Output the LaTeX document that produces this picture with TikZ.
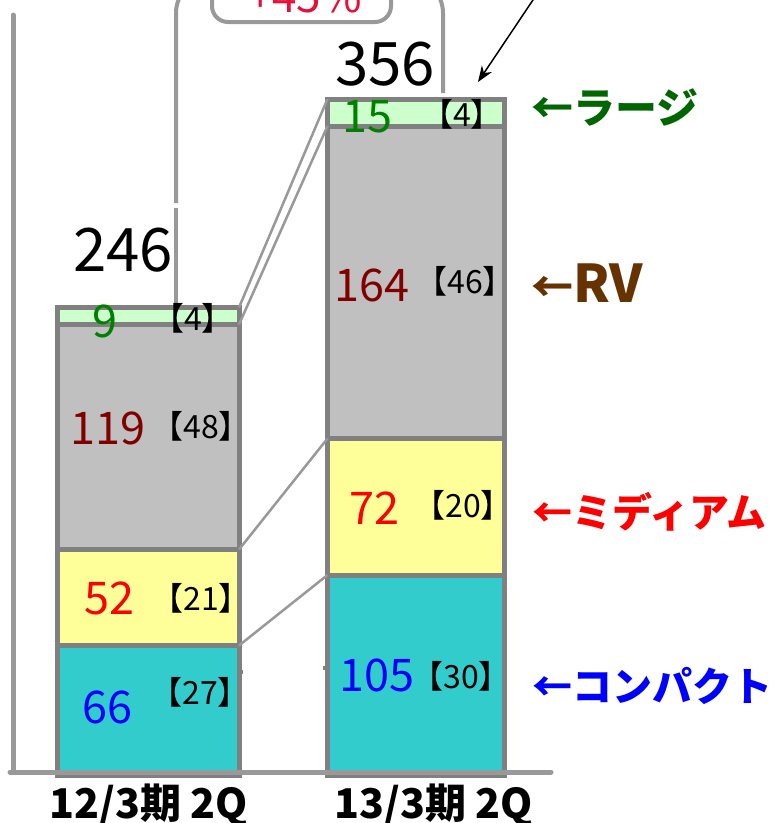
\documentclass[tikz,border=0pt]{standalone}
\usepackage{fontspec}
\setmainfont{Noto Sans CJK JP}
\usetikzlibrary{fit,arrows.meta}
\definecolor{barline}{HTML}{808080}
\definecolor{axisgray}{HTML}{999999}
\definecolor{lgreen}{HTML}{CCFFCC}
\definecolor{lgray}{HTML}{C0C0C0}
\definecolor{lyellow}{HTML}{FFFF99}
\definecolor{lteal}{HTML}{33CCCC}
\definecolor{dgreen}{HTML}{008000}
\definecolor{dred}{HTML}{800000}
\definecolor{lblgreen}{HTML}{006600}
\definecolor{lblbrown}{HTML}{663300}
\definecolor{pctred}{HTML}{E8103A}
\tikzset{
 seg/.style={draw=barline, line width=5pt, inner sep=0pt, outer sep=0pt},
 num/.style={inner sep=0pt, font=\fontsize{45}{50}\selectfont},
 brk/.style={inner sep=0pt, font=\fontsize{32}{36}\selectfont},
 tot/.style={inner sep=0pt, font=\fontsize{60}{66}\selectfont},
 cat/.style={inner sep=0pt, anchor=west, font=\bfseries\fontsize{40}{44}\selectfont},
 period/.style={inner sep=0pt, font=\bfseries\fontsize{41}{45}\selectfont},
 link/.style={draw=axisgray, line width=2.5pt},
 axisline/.style={draw=axisgray, line width=5pt, line cap=round},
 bracketline/.style={draw=axisgray, line width=4pt},
}
\begin{document}
\begin{tikzpicture}[x=1pt,y=-1pt]
\clip (0,0) rectangle (778,823);
\fill[white] (0,0) rectangle (778,823);

% bracket over the bars
\draw[bracketline, rounded corners=35pt] (176,203) -- (176,-22) -- (443,-22) -- (443,93);
\draw[bracketline] (176,208) -- (176,304);
\node[draw=axisgray, line width=4pt, fill=white, rounded corners=16pt, minimum width=179pt, minimum height=70pt, inner sep=0pt] (pctbox) at (301.5,-13) {};
\node[font=\fontsize{44}{48}\selectfont, text=pctred, anchor=base, inner sep=0pt] (pct) at (305,12) {+45\%};

% left axis
\coordinate (axtop) at (13,15);
\coordinate (axbot) at (13,772);
\coordinate (axleft) at (10,772);
\coordinate (axright) at (551,772);

% left bar
\node[seg, fill=lgreen, fit={(57,307.5) (239,324.5)}] (L9) {};
\node[seg, fill=lgray, fit={(57,324.5) (239,549.5)}] (L119) {};
\node[seg, fill=lyellow, fit={(57,549.5) (239,645.5)}] (L52) {};
\node[seg, fill=lteal, fit={(57,645.5) (239,775)}] (L66) {};

% right bar
\node[seg, fill=lgreen, fit={(327.5,99) (504.5,126)}] (R15) {};
\node[seg, fill=lgray, fit={(327.5,126) (504.5,438.5)}] (R164) {};
\node[seg, fill=lyellow, fit={(327.5,438.5) (504.5,575)}] (R72) {};
\node[seg, fill=lteal, fit={(327.5,575) (504.5,775)}] (R105) {};

% connectors between bars
\draw[link] (L9.north east) -- (R15.north west);
\draw[link] (L9.south east) -- (R15.south west);
\draw[link] (L119.south east) -- (R164.south west);
\draw[link] (L52.south east) -- (R72.south west);
\draw[draw=barline, line width=4pt] (L66.east) ++(0,-38) coordinate (nubL) -- ++(4,0);
\draw[draw=barline, line width=4pt] (R105.west) ++(0,-7) coordinate (nubR) -- ++(-5,0);

% axes
\draw[axisline] (axtop) -- (axbot);
\draw[axisline] (axleft) -- (axright);

% values, left bar
\node[num, text=dgreen] (v9) at (105,321) {9};
\node[brk] (b9) at (193,318) {【4】};
\node[num, text=dred] (v119) at (108,428) {119};
\node[brk] (b119) at (201,426) {【48】};
\node[num, text=red] (v52) at (109,598) {52};
\node[brk] (b52) at (201,598) {【21】};
\node[num, text=blue] (v66) at (107,707) {66};
\node[brk] (b66) at (200,692) {【27】};

% values, right bar
\node[num, text=dgreen] (v15) at (367,117) {15};
\node[brk] (b15) at (462,114) {【4】};
\node[num, text=dred] (v164) at (372,285) {164};
\node[brk] (b164) at (465,281) {【46】};
\node[num, text=red] (v72) at (374,508) {72};
\node[brk] (b72) at (463,505) {【20】};
\node[num, text=blue] (v105) at (377,675) {105};
\node[brk] (b105) at (461,676) {【30】};

% totals
\node[tot] (t246) at (123,250) {246};
\node[tot] (t356) at (385,64) {356};

% pointer arrow
\coordinate (arrstart) at (545,-18);
\coordinate (arrtip) at (478,82);
\draw[line width=1.5pt, -{Stealth[length=16pt,width=12pt]}] (arrstart) -- (arrtip);

% category labels
\node[cat, text=lblgreen, font=\bfseries\fontsize{42}{46}\selectfont] (cLarge) at (531,108) {←ラージ};
\node[cat, text=lblbrown, font=\bfseries\fontsize{42}{46}\selectfont] (cRV) at (531,283) {←{\fontsize{52}{56}\selectfont RV}};
\node[cat, text=red] (cMed) at (532,512) {←ミディアム};
\node[cat, text=blue] (cComp) at (532,686) {←コンパクト};

% periods
\node[period] (p1) at (149,805) {12/3期 2Q};
\node[period] (p2) at (434,805) {13/3期 2Q};
\end{tikzpicture}
\end{document}
